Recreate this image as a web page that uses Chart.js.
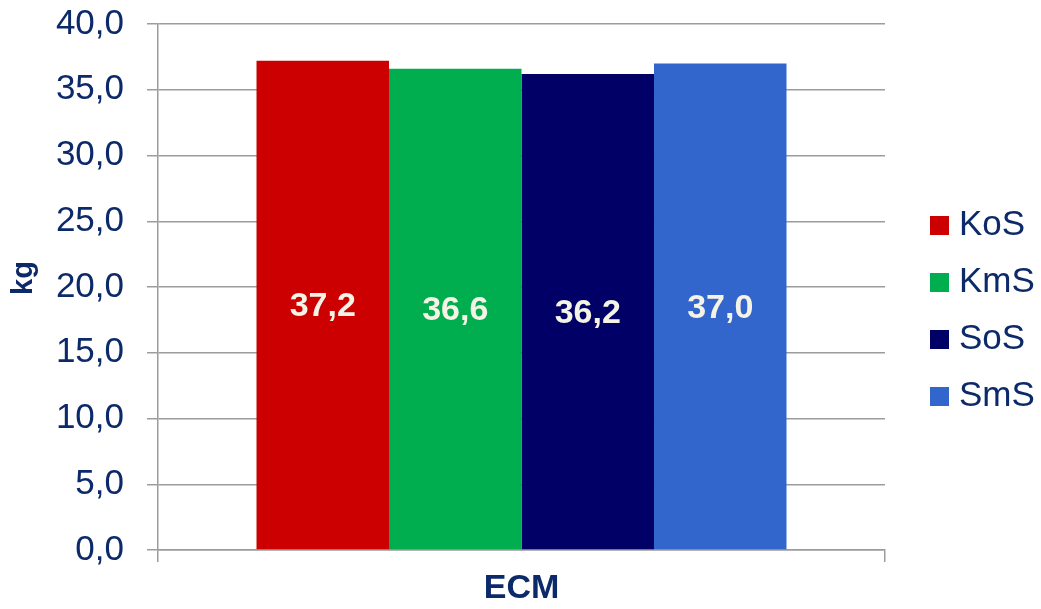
<!DOCTYPE html>
<html>
<head>
<meta charset="utf-8">
<script src="https://cdn.jsdelivr.net/npm/chart.js@4/dist/chart.umd.min.js"></script>
<style>
  html, body { margin: 0; padding: 0; background: #ffffff; }
  #wrap { width: 1041px; height: 609px; position: relative; }
</style>
</head>
<body>
<div id="wrap"><canvas id="c" width="1041" height="609"></canvas></div>
<script>
// Data
const categories = ['ECM'];
const seriesNames = ['KoS', 'KmS', 'SoS', 'SmS'];
const seriesValues = [37.2, 36.6, 36.2, 37.0];
const seriesColors = ['#cc0000', '#00ad4f', '#000066', '#3366cc'];
const yAxisTitle = 'kg';

const FONT = "'Liberation Sans', Arial, Helvetica, sans-serif";
const TEXT_NAVY = '#0c2a6a';
const GRID = '#9c9c9c';

const fmt = v => Number(v).toFixed(1).replace('.', ',');

// Value labels centred inside each bar
const barValueLabels = {
  id: 'barValueLabels',
  afterDatasetsDraw(chart) {
    const ctx = chart.ctx;
    ctx.save();
    ctx.font = "bold 34px " + FONT;
    ctx.fillStyle = '#f5f3e6';
    ctx.textAlign = 'center';
    ctx.textBaseline = 'middle';
    chart.data.datasets.forEach((ds, i) => {
      const meta = chart.getDatasetMeta(i);
      meta.data.forEach((bar, j) => {
        const v = ds.data[j];
        const cy = (bar.y + bar.base) / 2;
        ctx.fillText(fmt(v), bar.x, cy + 2);
      });
    });
    ctx.restore();
  }
};

// Y axis title and legend on the right
const sideTexts = {
  id: 'sideTexts',
  afterDraw(chart) {
    const ctx = chart.ctx;
    const area = chart.chartArea;
    ctx.save();
    // axis title, reading bottom to top
    ctx.font = "bold 29px " + FONT;
    ctx.fillStyle = TEXT_NAVY;
    ctx.textAlign = 'center';
    ctx.textBaseline = 'alphabetic';
    ctx.translate(32, area.top + 254);
    ctx.rotate(-Math.PI / 2);
    ctx.fillText(yAxisTitle, 0, 0);
    ctx.restore();

    // legend
    ctx.save();
    ctx.font = "35px " + FONT;
    ctx.textAlign = 'left';
    ctx.textBaseline = 'alphabetic';
    const boxX = area.right + 45;
    const box = 19;
    const step = 57;
    const top0 = area.top + 192;
    chart.data.datasets.forEach((ds, i) => {
      const y = top0 + i * step;
      ctx.fillStyle = ds.backgroundColor;
      ctx.fillRect(boxX, y, box, box);
      ctx.fillStyle = TEXT_NAVY;
      ctx.fillText(ds.label, boxX + box + 10, y + box);
    });
    ctx.restore();
  }
};

const datasets = seriesNames.map((name, i) => ({
  label: name,
  data: [seriesValues[i]],
  backgroundColor: seriesColors[i],
  borderWidth: 0,
  barPercentage: 1.0,
  categoryPercentage: 0.729
}));

new Chart(document.getElementById('c'), {
  type: 'bar',
  data: { labels: categories, datasets },
  options: {
    responsive: false,
    animation: false,
    devicePixelRatio: 1,
    layout: { padding: { top: 24, right: 156, left: 0, bottom: 0 } },
    plugins: {
      legend: { display: false },
      tooltip: { enabled: false }
    },
    scales: {
      x: {
        afterFit(s) { s.height = 59; s.paddingLeft = 0; s.paddingRight = 0; },
        grid: {
          offset: true,
          drawOnChartArea: false,
          drawTicks: true,
          tickLength: 12,
          color: GRID,
          lineWidth: 1.5
        },
        border: { display: true, color: GRID, width: 1.5 },
        ticks: {
          padding: 6,
          color: TEXT_NAVY,
          font: { family: FONT, size: 34, weight: 'bold' }
        }
      },
      y: {
        min: 0,
        max: 40,
        afterFit(s) { s.width = 158; s.paddingTop = 0; s.paddingBottom = 0; },
        grid: {
          drawOnChartArea: true,
          drawTicks: true,
          tickLength: 11,
          color: GRID,
          lineWidth: 1.5
        },
        border: { display: true, color: GRID, width: 1.5 },
        ticks: {
          stepSize: 5,
          padding: 23,
          color: TEXT_NAVY,
          font: { family: FONT, size: 35 },
          callback: v => fmt(v)
        }
      }
    }
  },
  plugins: [barValueLabels, sideTexts]
});
</script>
</body>
</html>
